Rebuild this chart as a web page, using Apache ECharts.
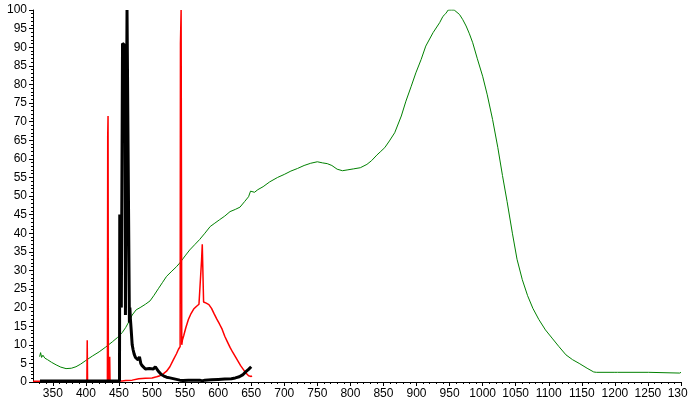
<!DOCTYPE html>
<html>
<head>
<meta charset="utf-8">
<script src="https://cdn.jsdelivr.net/npm/echarts@6/dist/echarts.min.js"></script>
<style>
html,body{margin:0;padding:0;background:#fff;}
#chart{width:688px;height:414px;}
</style>
</head>
<body>
<div id="chart"></div>
<script>
// x tick labels (nm) and minor tick positions
var xMajorTicks = [350,400,450,500,550,600,650,700,750,800,850,900,950,1000,1050,1100,1150,1200,1250,1300];
var xMinorTicks = [330,340,360,370,380,390,410,420,430,440,460,470,480,490,510,520,530,540,560,570,580,590,610,620,630,640,660,670,680,690,710,720,730,740,760,770,780,790,810,820,830,840,860,870,880,890,910,920,930,940,960,970,980,990,1010,1020,1030,1040,1060,1070,1080,1090,1110,1120,1130,1140,1160,1170,1180,1190,1210,1220,1230,1240,1260,1270,1280,1290];

// Green spectrum: [wavelength, value]
var greenSeries = [
[330,6.8],[331.5,7.9],[333,6.6],[335,7.2],[338,6.4],[342,6.0],[348,5.3],[355,4.6],[362,4.0],[370,3.6],[378,3.7],[385,4.1],[392,4.8],[400,5.8],[410,7.0],[420,8.1],[430,9.4],[440,10.8],[448,12.0],[455,13.3],[460,14.6],[465,16.2],[470,18.0],[476,19.4],[482,20.0],[490,20.9],[497,21.8],[503,23.3],[510,25.2],[516,26.8],[522,28.4],[530,29.8],[537,31.0],[542,32.0],[550,33.9],[557,35.5],[565,37.0],[572,38.3],[580,40.0],[588,41.8],[595,42.7],[602,43.6],[610,44.6],[618,45.8],[626,46.4],[633,47.0],[640,48.5],[646,49.8],[649,51.3],[652,50.8],[655,51.0],[660,51.7],[668,52.5],[678,53.8],[690,55.0],[700,55.8],[710,56.7],[720,57.4],[730,58.2],[740,58.8],[750,59.2],[758,58.9],[765,58.7],[772,58.2],[780,57.2],[788,56.8],[795,57.0],[805,57.3],[815,57.6],[825,58.5],[832,59.5],[840,61.0],[846,62.0],[852,63.0],[859,64.8],[867,67.0],[877,71.5],[884,75.5],[892,79.5],[899,83.1],[907,86.7],[914,90.3],[925,93.9],[935,96.6],[940,98.3],[944,99.0],[948,100],[953,100],[957,100],[960,99.6],[965,98.8],[970,97.4],[975,95.7],[980,93.6],[985,91.2],[992,86.9],[1000,82.2],[1007,77.2],[1015,70.6],[1023,63.0],[1030,55.5],[1037,48.5],[1045,40.0],[1052,33.0],[1060,27.5],[1068,23.2],[1076,19.8],[1085,16.8],[1095,14.0],[1105,11.8],[1115,9.6],[1126,7.3],[1136,6.0],[1146,5.0],[1158,3.7],[1168,2.7],[1172,2.6],[1200,2.6],[1202,2.8],[1204,2.6],[1251,2.6],[1253,2.4],[1298,2.4],[1300,2.6]
];

// Red spectrum
var redSeries = [
[320,0.2],[401.5,0.2],[402,11.2],[402.5,0.2],[432.5,0.3],[433,66],[433.5,71.5],[434,0.3],[435.5,0.3],[436,6.8],[436.5,0.3],[455,0.3],[460,0.4],[470,0.5],[480,0.9],[490,1.0],[500,1.1],[507,1.4],[512,1.7],[517,2.2],[522,2.9],[527,4.1],[532,5.9],[537,7.6],[540,8.8],[542.5,9.5],[543,91],[544,100],[545,10],[546,11.3],[548,12.5],[551,14.5],[555,16.8],[559,18.4],[563,19.6],[567,20.3],[571,20.9],[574,21.2],[575,33],[576,37],[577,36.5],[578,21.5],[582,21.2],[586,20.8],[590,19.8],[594,18.3],[598,16.9],[602,15.6],[606,14.2],[610,12.3],[614,10.8],[618,9.3],[622,8.0],[626,6.8],[630,5.6],[634,4.4],[638,3.4],[642,2.4],[646,1.7],[650,1.5],[651,1.7]
];

// Black spectrum
var blackSeries = [
[330.5,0.3],[450.8,0.3],[451.2,45],[452.8,44.5],[453.6,20],[454.8,20],[455.4,91],[459,90.5],[459.8,18],[461.6,18],[462.2,100],[465.2,100],[465.8,16],[466.5,20],[467.3,17],[468.5,14],[470,10],[471.5,8.6],[473,7.5],[475,6.6],[477,6.2],[479,5.9],[481,6.8],[483,5.0],[485,4.4],[488,4.2],[490,3.5],[493,4.0],[496,3.6],[499,4.1],[502,3.5],[505,4.1],[507,3.9],[510,2.8],[514,2.0],[518,1.6],[522,1.3],[527,1.1],[532,0.9],[537,0.7],[542,0.5],[547,0.4],[555,0.5],[565,0.5],[572,0.5],[576,0.3],[580,0.5],[590,0.6],[600,0.7],[610,0.8],[620,0.9],[626,1.1],[632,1.4],[637,1.9],[642,2.8],[646,3.4],[650,4.1]
];

var chart = echarts.init(document.getElementById('chart'), null, {renderer:'canvas'});
var font = 'Liberation Sans, Arial, sans-serif';
chart.setOption({
  animation:false,
  backgroundColor:'#ffffff',
  grid:{left:33,right:7,top:10,bottom:32,containLabel:false,outerBoundsMode:'none'},
  xAxis:[{
    type:'value',min:320,max:1300,position:'bottom',
    axisLine:{show:true,onZero:false,lineStyle:{color:'#000',width:1}},
    axisTick:{show:true,customValues:xMajorTicks,length:4,lineStyle:{color:'#000'}},
    axisLabel:{show:true,customValues:xMajorTicks,margin:6,color:'#000',fontSize:12,fontFamily:font,
      formatter:function(v){return String(v);}},
    splitLine:{show:false}
  },{
    type:'value',min:320,max:1300,position:'bottom',
    axisLine:{show:false},
    axisTick:{show:true,customValues:xMinorTicks,length:2,lineStyle:{color:'#000'}},
    axisLabel:{show:false},
    splitLine:{show:false}
  }],
  yAxis:{
    type:'value',min:0,max:100,interval:5,
    axisLine:{show:true,lineStyle:{color:'#000',width:1}},
    axisTick:{show:true,length:4,lineStyle:{color:'#000'}},
    minorTick:{show:true,splitNumber:5,length:2,lineStyle:{color:'#000'}},
    axisLabel:{margin:6,color:'#000',fontSize:12,fontFamily:font,formatter:function(v){return String(v);}},
    splitLine:{show:false}
  },
  series:[
    {type:'line',data:greenSeries,showSymbol:false,symbol:'none',lineStyle:{color:'#008000',width:1},itemStyle:{color:'#008000'},z:2},
    {type:'line',data:redSeries,showSymbol:false,symbol:'none',lineStyle:{color:'#ff0000',width:1.5},itemStyle:{color:'#ff0000'},z:3},
    {type:'line',data:blackSeries,showSymbol:false,symbol:'none',lineStyle:{color:'#000000',width:3},itemStyle:{color:'#000'},z:4}
  ]
});
</script>
</body>
</html>
